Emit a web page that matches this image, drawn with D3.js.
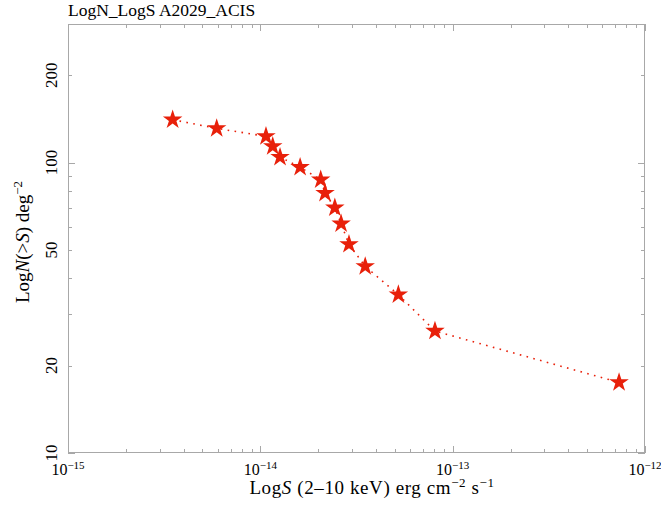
<!DOCTYPE html>
<html>
<head>
<meta charset="utf-8">
<script src="https://cdn.jsdelivr.net/npm/d3@7"></script>
<style>
  body { margin: 0; background: #fff; }
  svg { display: block; }
  text { font-family: "Liberation Serif", "DejaVu Serif", serif; fill: #000; }
</style>
</head>
<body>
<svg id="chart" width="661" height="506"></svg>
<script>
// ---- data ----
const fluxS = [3.50e-15, 5.93e-15, 1.07e-14, 1.16e-14, 1.266e-14, 1.61e-14, 2.06e-14, 2.17e-14,
               2.44e-14, 2.63e-14, 2.89e-14, 3.51e-14, 5.22e-14, 8.09e-14, 7.33e-13];
const countN = [140.5, 131.1, 123.1, 113.7, 104.4, 96.4, 87.3, 78.5,
                69.9, 61.6, 52.3, 43.9, 35.1, 26.3, 17.5];
const xTickExps = [-15, -14, -13, -12];
const yTickLabels = [10, 20, 50, 100, 200];
const titleText = "LogN_LogS A2029_ACIS";

// ---- layout ----
const svg = d3.select("#chart");
const pLeft = 68, pRight = 645, pTop = 24, pBottom = 453;
const x = d3.scaleLog().domain([1e-15, 1e-12]).range([pLeft, pRight]);
const y = d3.scaleLog().domain([10, 300]).range([pBottom, pTop]);
const frameColor = "#a8a8a8";

// minor/major ticks
const xMajor = xTickExps.map(e => Math.pow(10, e));
const xMinor = [];
for (let e = -15; e < -12; e++) for (let m = 2; m <= 9; m++) xMinor.push(m * Math.pow(10, e));
const yMajor = [10, 100];
const yMinor = [];
for (let v = 20; v <= 90; v += 10) yMinor.push(v);
for (let v = 200; v <= 300; v += 100) yMinor.push(v);

const g = svg.append("g");
const tk = (x1, y1, x2, y2) => g.append("line").attr("x1", x1).attr("y1", y1).attr("x2", x2).attr("y2", y2)
  .attr("stroke", frameColor).attr("stroke-width", 1);

xMajor.forEach(v => { const px = Math.round(x(v)) + 0.5; tk(px, pBottom, px, pBottom - 7); tk(px, pTop, px, pTop + 7); });
xMinor.forEach(v => { const px = Math.round(x(v)) + 0.5; tk(px, pBottom, px, pBottom - 4); tk(px, pTop, px, pTop + 4); });
yMajor.forEach(v => { const py = Math.round(y(v)) + 0.5; tk(pLeft, py, pLeft + 7, py); tk(pRight, py, pRight - 7, py); });
yMinor.forEach(v => { const py = Math.round(y(v)) + 0.5; tk(pLeft, py, pLeft + 4, py); tk(pRight, py, pRight - 4, py); });

g.append("rect").attr("x", pLeft + 0.5).attr("y", pTop + 0.5)
  .attr("width", pRight - pLeft - 1).attr("height", pBottom - pTop - 1)
  .attr("fill", "none").attr("stroke", frameColor).attr("stroke-width", 1);

// x tick labels
xTickExps.forEach(e => {
  const t = svg.append("text").attr("x", x(Math.pow(10, e))).attr("y", 475)
    .attr("text-anchor", "middle").style("font-size", "16px");
  t.append("tspan").text("10");
  t.append("tspan").attr("dy", -6).style("font-size", "11px").text("\u2212" + Math.abs(e));
});

// y tick labels (rotated)
yTickLabels.forEach(v => {
  svg.append("text").attr("transform", `translate(57,${y(v)}) rotate(-90)`)
    .attr("text-anchor", "middle").style("font-size", "17px").text(v);
});

// title
svg.append("text").attr("x", 68).attr("y", 16).style("font-size", "17.5px").text(titleText);

// x axis title
const xt = svg.append("text").attr("x", 372).attr("y", 494).attr("text-anchor", "middle")
  .style("font-size", "19px").style("letter-spacing", "0.6px");
xt.append("tspan").text("Log");
xt.append("tspan").style("font-style", "italic").text("S");
xt.append("tspan").text(" (2\u201310 keV) erg cm");
xt.append("tspan").attr("dy", -7).style("font-size", "13px").text("\u22122");
xt.append("tspan").attr("dy", 7).text(" s");
xt.append("tspan").attr("dy", -7).style("font-size", "13px").text("\u22121");

// y axis title
const yt = svg.append("text").attr("transform", `translate(29,242) rotate(-90)`)
  .attr("text-anchor", "middle").style("font-size", "19px");
yt.append("tspan").text("Log");
yt.append("tspan").style("font-style", "italic").text("N");
yt.append("tspan").text("(>");
yt.append("tspan").style("font-style", "italic").text("S");
yt.append("tspan").text(") deg");
yt.append("tspan").attr("dy", -7).style("font-size", "13px").text("\u22122");

// data
const pts = fluxS.map((s, i) => [s, countN[i]]);
const red = "#e8200a";
svg.append("path").datum(pts)
  .attr("d", d3.line().x(d => x(d[0])).y(d => y(d[1])))
  .attr("fill", "none").attr("stroke", red).attr("stroke-width", 1.6)
  .attr("stroke-dasharray", "1.6,5.4");

const star = d3.symbol().type(d3.symbolStar).size(118);
svg.append("g").selectAll("path").data(pts).join("path")
  .attr("transform", d => `translate(${x(d[0])},${y(d[1])})`)
  .attr("d", star).attr("fill", red);
</script>
</body>
</html>
